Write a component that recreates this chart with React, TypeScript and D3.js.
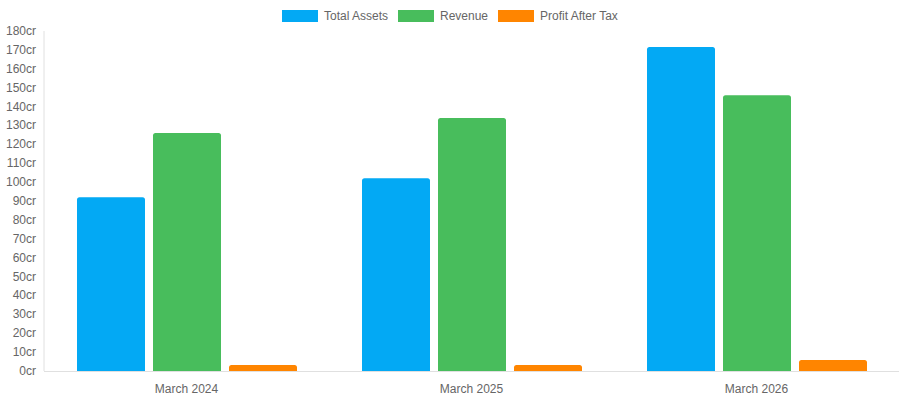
import React from "react";
import * as d3 from "d3";

const categories = ["March 2024", "March 2025", "March 2026"];
const seriesNames = ["Total Assets", "Revenue", "Profit After Tax"];
const totalAssets = [92, 102, 171.5];
const revenue = [126, 134, 146];
const profitAfterTax = [3.2, 3.2, 5.8];
const yTicks = [0, 10, 20, 30, 40, 50, 60, 70, 80, 90, 100, 110, 120, 130, 140, 150, 160, 170, 180];
const colors = ["#03a9f4", "#48bd5c", "#ff8500"];

const W = 900;
const H = 400;
const left = 44;
const right = 899;
const top = 31;
const bottom = 371;

function roundTopRect(x: number, y: number, w: number, h: number, r: number) {
  const rr = Math.min(r, h / 2, w / 2);
  return `M${x},${y + h}V${y + rr}Q${x},${y} ${x + rr},${y}H${x + w - rr}Q${x + w},${y} ${x + w},${y + rr}V${y + h}Z`;
}

export default function App() {
  const series = [totalAssets, revenue, profitAfterTax];
  const x0 = d3.scaleBand<string>().domain(categories).range([left, right]).paddingInner(0).paddingOuter(0);
  const x1 = d3
    .scaleBand<string>()
    .domain(seriesNames)
    .range([33, x0.bandwidth() - 32])
    .paddingInner(8 / 76);
  const y = d3.scaleLinear().domain([0, 180]).range([bottom, top]);
  const font = "'Liberation Sans', Arial, Helvetica, sans-serif";

  const legendItems = [
    { name: seriesNames[0], x: 282, tx: 324 },
    { name: seriesNames[1], x: 398, tx: 440 },
    { name: seriesNames[2], x: 498, tx: 540 },
  ];

  return (
    <svg width={W} height={H} style={{ position: "absolute", left: 0, top: 0, fontFamily: font }}>
      {legendItems.map((l, i) => (
        <g key={l.name}>
          <rect x={l.x} y={10} width={36} height={12} fill={colors[i]} />
          <text x={l.tx} y={20} fontSize={12} fill="#666">
            {l.name}
          </text>
        </g>
      ))}
      {yTicks.map((t) => (
        <text key={t} x={36} y={y(t) + 4} fontSize={12} fill="#666" textAnchor="end">
          {t}cr
        </text>
      ))}
      <line x1={left} x2={left} y1={top} y2={bottom} stroke="#e0e0e0" />
      {categories.map((c, ci) =>
        series.map((s, si) => {
          const bx = (x0(c) as number) + (x1(seriesNames[si]) as number);
          const by = y(s[ci]);
          return (
            <path
              key={c + si}
              d={roundTopRect(bx, by, x1.bandwidth(), bottom - by, 2.5)}
              fill={colors[si]}
            />
          );
        })
      )}
      <line x1={left} x2={right} y1={bottom + 0.5} y2={bottom + 0.5} stroke="#e0e0e0" />
      {categories.map((c) => (
        <text
          key={c}
          x={(x0(c) as number) + x0.bandwidth() / 2}
          y={393}
          fontSize={12}
          fill="#666"
          textAnchor="middle"
        >
          {c}
        </text>
      ))}
    </svg>
  );
}
